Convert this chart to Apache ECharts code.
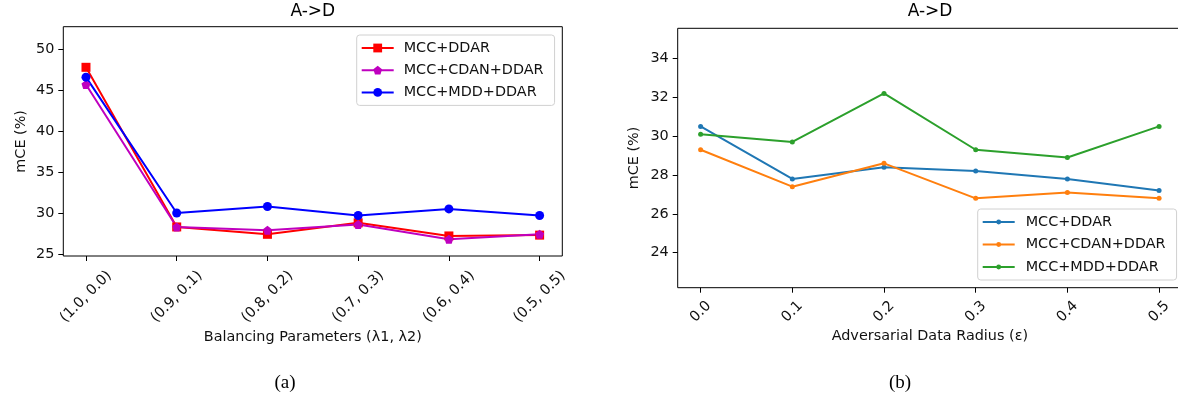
<!DOCTYPE html>
<html>
<head>
<meta charset="UTF-8">
<title>A->D</title>
<script src="https://cdn.jsdelivr.net/npm/echarts@6/dist/echarts.min.js"></script>
<style>
  html, body { margin: 0; padding: 0; background: #fff; overflow: hidden; }
  #chartA { position: absolute; left: 0; top: 0; width: 600px; height: 397px; }
  #chartB { position: absolute; left: 600px; top: 0; width: 600px; height: 397px; }
</style>
</head>
<body>
<div id="chartA"></div>
<div id="chartB"></div>
<script>
// (a) balancing parameters
var xLabelsA = ['(1.0, 0.0)', '(0.9, 0.1)', '(0.8, 0.2)', '(0.7, 0.3)', '(0.6, 0.4)', '(0.5, 0.5)'];
var ddarA = [47.8, 28.3, 27.4, 28.8, 27.2, 27.3];
var cdanA = [45.7, 28.3, 27.9, 28.6, 26.8, 27.4];
var mddA = [46.6, 30.0, 30.8, 29.7, 30.5, 29.7];
var yTicksA = [25, 30, 35, 40, 45, 50];

// (b) adversarial data radius
var xLabelsB = ['0.0', '0.1', '0.2', '0.3', '0.4', '0.5'];
var ddarB = [30.5, 27.8, 28.4, 28.2, 27.8, 27.2];
var cdanB = [29.3, 27.4, 28.6, 26.8, 27.1, 26.8];
var mddB = [30.1, 29.7, 32.2, 29.3, 28.9, 30.5];
var yTicksB = [24, 26, 28, 30, 32, 34];

var seriesNames = ['MCC+DDAR', 'MCC+CDAN+DDAR', 'MCC+MDD+DDAR'];

var FONT = 'DejaVu Sans';
var pentagon = 'path://M0,-1L0.951,-0.309L0.588,0.809L-0.588,0.809L-0.951,-0.309Z';

function pairs(arr) {
    var out = [];
    for (var i = 0; i < arr.length; i++) out.push([i, arr[i]]);
    return out;
}

function lineSeries(name, data, color, symbol, size) {
    return {
        name: name,
        type: 'line',
        data: pairs(data),
        symbol: symbol,
        symbolSize: size,
        showAllSymbol: true,
        color: color,
        lineStyle: { color: color, width: 2 },
        itemStyle: { color: color },
        emphasis: { disabled: true },
        animation: false
    };
}

function baseOption(c) {
    var idx = [];
    for (var i = 0; i < c.xLabels.length; i++) idx.push(i);
    return {
        animation: false,
        textStyle: { fontFamily: FONT },
        grid: {
            left: c.grid[0], top: c.grid[1], right: c.grid[2], bottom: c.grid[3],
            show: true, borderColor: '#000', borderWidth: 1,
            containLabel: false, outerBoundsMode: 'none'
        },
        graphic: [
            { type: 'text', x: c.titleX, y: 12, style: { text: 'A->D', fontFamily: FONT, fontSize: 17, fill: '#000', align: 'center', verticalAlign: 'middle' } },
            { type: 'text', x: c.capX, y: 383, style: { text: c.caption, fontFamily: 'Liberation Serif', fontSize: 19, fill: '#000', align: 'center', verticalAlign: 'middle' } }
        ],
        legend: {
            left: c.legend[0], top: c.legend[1],
            orient: 'vertical',
            data: seriesNames,
            itemWidth: 32, itemHeight: c.legendIcon, itemGap: c.legendGap,
            padding: [6, 11, 6, 4],
            backgroundColor: 'rgba(255,255,255,0.8)',
            borderColor: '#d0d0d0', borderWidth: 1, borderRadius: 3,
            selectedMode: false,
            textStyle: { fontFamily: FONT, fontSize: 14.4, lineHeight: 14, color: '#111', padding: [0, 0, 0, c.legendTextPad] }
        },
        xAxis: {
            type: 'value', min: -0.25, max: 5.25,
            name: c.xName, nameLocation: 'middle', nameGap: c.xNameGap, nameMoveOverlap: false,
            nameTextStyle: { fontFamily: FONT, fontSize: 14.4, color: '#111' },
            axisLine: { show: false, onZero: false },
            splitLine: { show: false },
            axisTick: { show: true, length: 5, lineStyle: { color: '#000' }, customValues: idx },
            axisLabel: {
                customValues: idx, rotate: 45, align: 'center', verticalAlign: 'middle',
                margin: c.xLabelMargin, fontFamily: FONT, fontSize: 14.4, color: '#111',
                formatter: function (v) { return c.xLabels[Math.round(v)]; }
            }
        },
        yAxis: {
            type: 'value', min: c.yMin, max: c.yMax,
            name: 'mCE (%)', nameLocation: 'middle', nameGap: c.yNameGap, nameMoveOverlap: false,
            nameTextStyle: { fontFamily: FONT, fontSize: 14.4, color: '#111' },
            axisLine: { show: false, onZero: false },
            splitLine: { show: false },
            axisTick: { show: true, length: 5, lineStyle: { color: '#000' }, customValues: c.yTicks },
            axisLabel: {
                customValues: c.yTicks, margin: 9, fontFamily: FONT, fontSize: 14.4, color: '#111',
                formatter: function (v) { return String(v); }
            }
        },
        series: c.series
    };
}

var chartA = echarts.init(document.getElementById('chartA'));
chartA.setOption(baseOption({
    xLabels: xLabelsA,
    grid: [63.3, 26.7, 37.7, 141],
    titleX: 312.8, capX: 285, caption: '(a)',
    legend: [356.7, 35], legendGap: 8.2, legendIcon: 11, legendTextPad: 5,
    xName: 'Balancing Parameters (\u03bb1, \u03bb2)', xNameGap: 74, xLabelMargin: 40.7,
    yMin: 24.75, yMax: 52.76, yTicks: yTicksA, yNameGap: 35,
    series: [
        lineSeries(seriesNames[0], ddarA, '#ff0000', 'rect', 9),
        lineSeries(seriesNames[1], cdanA, '#bf00bf', pentagon, 9),
        lineSeries(seriesNames[2], mddA, '#0000ff', 'circle', 9)
    ]
}));

var chartB = echarts.init(document.getElementById('chartB'));
chartB.setOption(baseOption({
    xLabels: xLabelsB,
    grid: [77.7, 28.3, 18, 109.3],
    titleX: 330, capX: 300, caption: '(b)',
    legend: [377.7, 209], legendGap: 8.5, legendIcon: 6, legendTextPad: 6,
    xName: 'Adversarial Data Radius (\u03b5)', xNameGap: 42, xLabelMargin: 24,
    yMin: 22.2, yMax: 35.55, yTicks: yTicksB, yNameGap: 36,
    series: [
        lineSeries(seriesNames[0], ddarB, '#1f77b4', 'circle', 5),
        lineSeries(seriesNames[1], cdanB, '#ff7f0e', 'circle', 5),
        lineSeries(seriesNames[2], mddB, '#2ca02c', 'circle', 5)
    ]
}));
</script>
</body>
</html>
